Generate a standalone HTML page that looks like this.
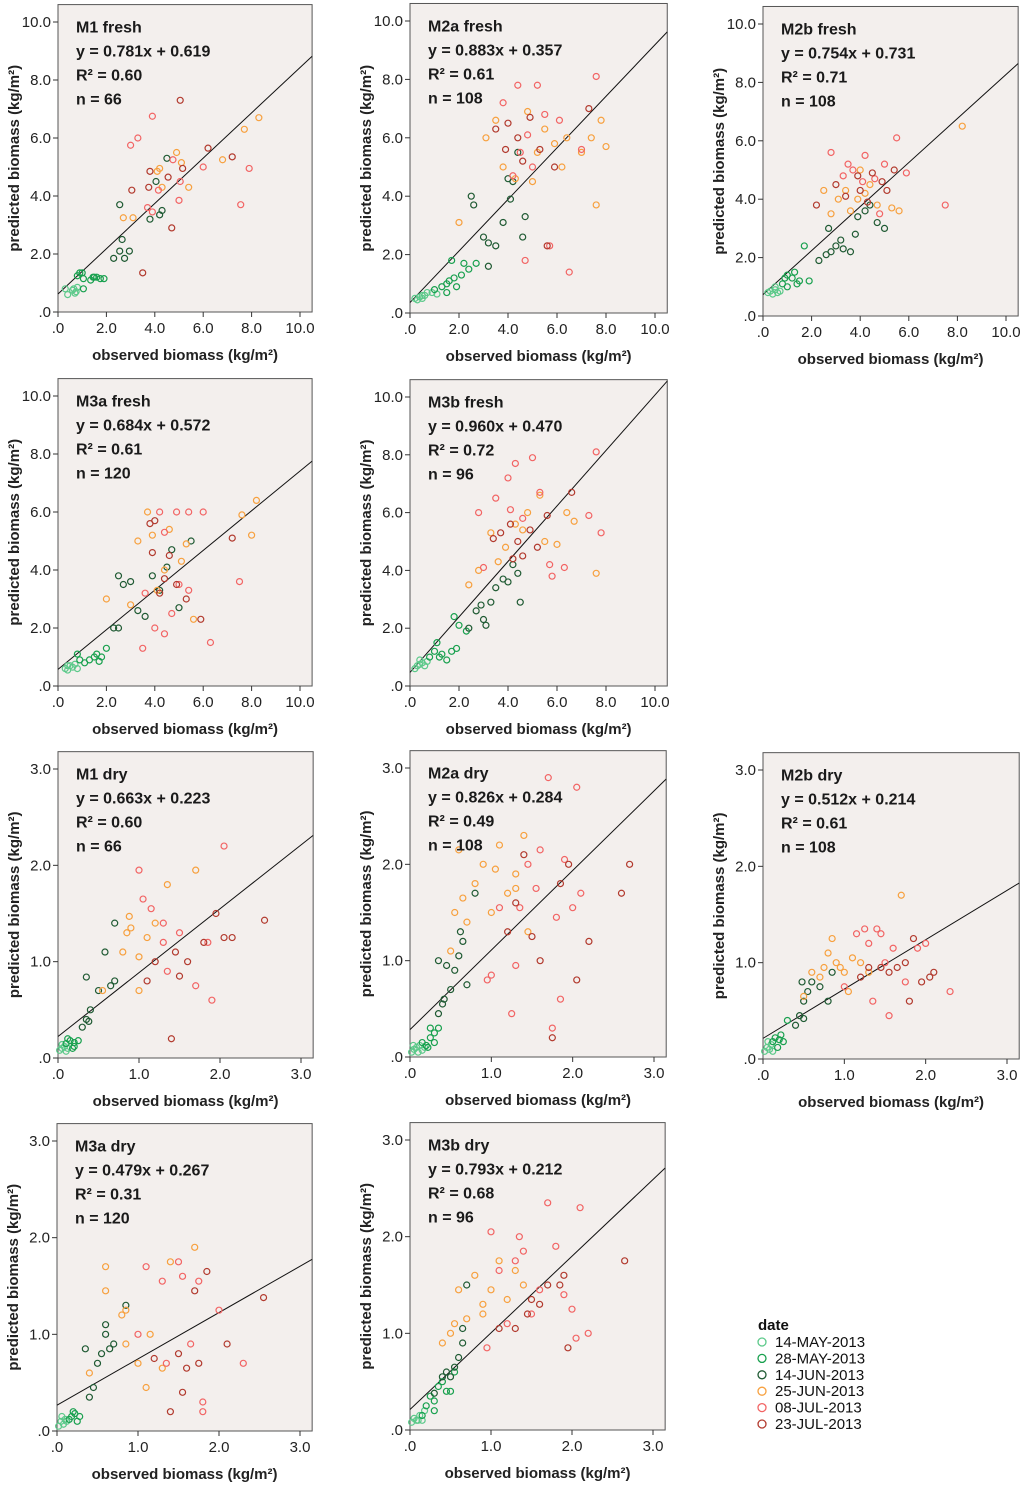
<!DOCTYPE html>
<html><head><meta charset="utf-8"><title>Biomass model scatter plots</title>
<style>
body{margin:0;background:#fff;}
svg{display:block;font-family:"Liberation Sans",Arial,sans-serif;}
</style></head>
<body>
<svg id="chart" width="1024" height="1489" viewBox="0 0 1024 1489" xmlns="http://www.w3.org/2000/svg"></svg>
<script>
// ---- data ----
const dateLabels = ["14-MAY-2013","28-MAY-2013","14-JUN-2013","25-JUN-2013","08-JUL-2013","23-JUL-2013"];
const dateColors = ["#5cc98a","#18a04e","#1f5a33","#f7a03e","#f26464","#b23a2e"];
const panelTitles = ["M1 fresh","M2a fresh","M2b fresh","M3a fresh","M3b fresh","M1 dry","M2a dry","M2b dry","M3a dry","M3b dry"];
const slopes = [0.781,0.883,0.754,0.684,0.960,0.663,0.826,0.512,0.479,0.793];
const intercepts = [0.619,0.357,0.731,0.572,0.470,0.223,0.284,0.214,0.267,0.212];
const r2Labels = ["0.60","0.61","0.71","0.61","0.72","0.60","0.49","0.61","0.31","0.68"];
const nLabels = ["66","108","108","120","96","66","108","108","120","96"];
const freshTicks = [0,2,4,6,8,10];
const freshTickLabels = [".0","2.0","4.0","6.0","8.0","10.0"];
const dryTicks = [0,1,2,3];
const dryTickLabels = [".0","1.0","2.0","3.0"];

const p1 = [
[[0.3,0.8],[0.4,0.6],[0.6,0.75],[0.7,0.65],[0.75,0.7],[0.8,0.85],[0.65,0.8]],
[[0.8,1.25],[0.9,1.35],[1.0,1.35],[1.05,1.15],[1.05,0.8],[1.35,1.1],[1.45,1.2],[1.5,1.2],[1.6,1.2],[1.75,1.15],[1.9,1.15]],
[[2.3,1.85],[2.55,2.1],[2.65,2.5],[2.75,1.85],[2.95,2.1],[2.55,3.7],[3.8,3.2],[4.2,3.35],[4.3,3.5],[4.05,4.5],[4.5,5.3]],
[[2.7,3.25],[3.1,3.25],[4.1,4.85],[4.2,4.95],[4.3,4.3],[4.9,5.5],[5.1,5.15],[5.4,4.3],[6.8,5.25],[7.7,6.3],[8.3,6.7]],
[[3.0,5.75],[3.3,6.0],[3.9,6.75],[3.7,3.6],[3.9,3.45],[4.15,4.2],[4.75,5.25],[5.0,3.85],[5.05,4.5],[6.0,5.0],[7.55,3.7],[7.9,4.95]],
[[3.05,4.2],[3.5,1.35],[3.75,4.3],[3.8,4.85],[4.55,4.65],[4.7,2.9],[5.05,7.3],[5.15,4.95],[6.2,5.65],[7.2,5.35]]];
const p2 = [
[[0.2,0.5],[0.4,0.55],[0.5,0.6],[0.3,0.45],[0.6,0.6],[0.7,0.7],[0.9,0.7],[1.1,0.65],[0.5,0.5]],
[[1.0,0.8],[1.3,0.9],[1.5,1.0],[1.6,1.1],[1.8,1.2],[1.9,0.9],[1.5,0.7],[2.1,1.3],[1.7,1.8],[2.2,1.7],[2.4,1.5],[2.7,1.7]],
[[2.5,4.0],[2.6,3.7],[3.0,2.6],[3.2,2.4],[3.5,2.3],[3.2,1.6],[3.8,3.1],[4.0,4.6],[4.1,3.9],[4.2,4.5],[4.4,5.5],[4.6,2.6],[4.7,3.3]],
[[2.0,3.1],[3.1,6.0],[3.5,6.6],[3.8,5.0],[4.3,4.6],[4.8,6.9],[5.2,5.5],[5.5,6.3],[5.0,4.5],[6.4,6.0],[7.0,5.5],[7.4,6.0],[7.6,3.7],[7.8,6.6],[8.0,5.7],[5.9,5.8],[6.2,5.0]],
[[3.8,7.2],[4.4,7.8],[4.8,6.1],[5.2,7.8],[5.5,6.8],[4.2,4.7],[4.5,5.5],[5.7,2.3],[5.0,5.0],[6.1,6.6],[7.0,5.6],[7.6,8.1],[6.5,1.4],[4.7,1.8]],
[[3.5,6.3],[3.9,5.6],[4.0,6.5],[4.4,6.0],[4.6,5.2],[4.9,6.7],[5.3,5.6],[5.9,5.0],[5.6,2.3],[7.3,7.0]]];
const p3 = [
[[0.2,0.8],[0.3,0.85],[0.4,0.75],[0.5,0.9],[0.6,0.8],[0.7,0.85],[0.5,1.0]],
[[0.8,1.1],[0.9,1.3],[1.0,1.4],[1.2,1.3],[1.3,1.5],[1.5,1.2],[1.9,1.2],[1.7,2.4],[1.0,1.0],[1.4,1.1]],
[[2.3,1.9],[2.6,2.1],[2.8,2.2],[3.0,2.4],[3.3,2.3],[3.6,2.2],[3.8,2.8],[3.9,3.4],[4.2,3.6],[4.4,3.8],[4.7,3.2],[5.0,3.0],[2.7,3.0],[3.2,2.6]],
[[2.5,4.3],[2.8,3.5],[3.1,4.0],[3.4,4.3],[3.6,3.6],[3.9,4.0],[4.2,4.2],[4.4,4.5],[4.7,3.8],[5.3,3.7],[5.6,3.6],[8.2,6.5],[4.0,5.0]],
[[2.8,5.6],[3.5,5.2],[3.7,5.0],[4.2,5.5],[4.6,4.7],[5.0,5.2],[5.5,6.1],[5.9,4.9],[7.5,3.8],[4.8,3.5],[3.3,4.8],[4.1,4.6]],
[[2.2,3.8],[3.4,4.1],[3.9,4.8],[4.3,3.9],[4.5,4.9],[4.9,4.6],[5.1,4.3],[5.4,5.0],[3.0,4.5],[4.0,4.3]]];
const p4 = [
[[0.3,0.6],[0.4,0.55],[0.5,0.7],[0.6,0.65],[0.7,0.75],[0.4,0.7],[0.8,0.6]],
[[0.8,1.1],[0.9,0.9],[1.1,0.8],[1.3,0.9],[1.5,1.0],[1.6,1.1],[1.8,1.0],[2.0,1.3],[1.7,0.85]],
[[2.3,2.0],[2.5,2.0],[2.7,3.5],[3.0,3.6],[3.3,2.6],[3.6,2.4],[3.9,3.8],[4.2,3.3],[4.5,4.1],[4.7,4.7],[5.0,2.7],[5.5,5.0],[2.5,3.8]],
[[2.0,3.0],[3.3,5.0],[3.7,6.0],[3.9,5.2],[4.1,3.3],[4.4,4.0],[4.6,5.4],[5.1,4.3],[5.3,4.9],[5.6,2.3],[7.6,5.9],[8.0,5.2],[8.2,6.4],[3.0,2.8]],
[[3.5,1.3],[4.0,2.0],[4.4,1.8],[4.7,2.5],[5.0,3.5],[5.4,3.3],[4.4,5.3],[4.2,6.0],[4.9,6.0],[6.3,1.5],[7.5,3.6],[6.0,6.0],[5.4,6.0],[3.6,3.2]],
[[3.8,5.6],[3.9,4.6],[4.0,5.7],[4.2,3.2],[4.6,4.5],[4.9,3.5],[5.3,3.0],[5.9,2.3],[7.2,5.1],[4.4,3.7]]];
const p5 = [
[[0.2,0.6],[0.3,0.7],[0.4,0.75],[0.5,0.8],[0.6,0.7],[0.7,0.85],[0.4,0.9]],
[[0.8,1.0],[1.0,1.2],[1.2,1.0],[1.3,1.1],[1.1,1.5],[1.5,0.9],[1.7,1.2],[1.9,1.3],[2.0,2.1],[1.8,2.4],[2.3,1.9]],
[[2.4,2.0],[2.7,2.6],[2.9,2.8],[3.1,2.1],[3.3,2.9],[3.5,3.4],[3.8,3.7],[4.0,3.6],[4.2,4.2],[4.4,3.9],[4.5,2.9],[3.0,2.3]],
[[2.4,3.5],[2.8,4.0],[3.3,5.3],[3.6,4.3],[3.9,4.8],[4.3,5.6],[4.8,6.0],[5.3,6.6],[5.5,5.0],[6.0,4.9],[6.4,6.0],[6.7,5.7],[7.6,3.9],[4.6,5.4]],
[[2.8,6.0],[3.5,6.5],[4.0,7.2],[4.3,7.7],[4.6,5.8],[5.0,7.9],[5.3,6.7],[5.7,4.2],[6.3,4.1],[7.3,5.9],[7.8,5.3],[7.6,8.1],[3.0,4.1],[4.1,6.1],[5.8,3.8]],
[[3.4,5.1],[3.7,5.3],[4.1,5.6],[4.4,5.0],[4.6,4.5],[4.9,5.4],[5.2,4.8],[5.6,5.9],[6.6,6.7],[4.2,4.4]]];
const p6 = [
[[0.02,0.08],[0.05,0.1],[0.08,0.12],[0.1,0.07],[0.12,0.1],[0.05,0.14]],
[[0.1,0.15],[0.15,0.18],[0.2,0.16],[0.2,0.12],[0.25,0.18],[0.18,0.1],[0.12,0.2]],
[[0.3,0.32],[0.35,0.4],[0.38,0.38],[0.4,0.5],[0.35,0.84],[0.5,0.7],[0.58,1.1],[0.65,0.75],[0.7,0.8],[0.7,1.4]],
[[0.55,0.7],[0.8,1.1],[0.85,1.3],[0.9,1.35],[1.0,0.7],[1.0,1.05],[1.1,1.25],[1.35,1.8],[1.7,1.95],[1.2,1.4],[0.88,1.47]],
[[1.0,1.95],[1.15,1.55],[1.05,1.65],[1.3,1.2],[1.35,0.9],[1.5,1.3],[1.7,0.75],[1.85,1.2],[1.9,0.6],[2.05,2.2],[1.3,1.4]],
[[1.1,0.8],[1.2,1.0],[1.4,0.2],[1.45,1.1],[1.6,1.0],[1.8,1.2],[1.95,1.5],[2.05,1.25],[2.15,1.25],[2.55,1.43],[1.5,0.85]]];
const p7 = [
[[0.02,0.05],[0.05,0.08],[0.08,0.1],[0.1,0.05],[0.12,0.12],[0.15,0.07],[0.04,0.12],[0.18,0.1]],
[[0.15,0.15],[0.2,0.12],[0.25,0.2],[0.25,0.3],[0.3,0.25],[0.3,0.15],[0.35,0.3],[0.22,0.1]],
[[0.35,0.45],[0.4,0.55],[0.42,0.6],[0.5,0.7],[0.55,0.9],[0.6,1.05],[0.62,1.3],[0.65,1.2],[0.7,0.75],[0.8,1.7],[0.35,1.0],[0.45,0.95]],
[[0.5,1.1],[0.55,1.5],[0.65,1.65],[0.7,1.4],[0.8,1.8],[0.9,2.0],[1.0,1.5],[1.05,1.95],[1.1,2.2],[1.2,1.7],[1.3,1.9],[1.4,2.3],[0.6,2.15],[1.45,1.3],[1.3,1.75]],
[[0.95,0.8],[1.1,1.55],[1.25,0.45],[1.35,1.55],[1.45,2.0],[1.55,1.75],[1.6,2.15],[1.7,2.9],[1.75,0.3],[1.8,1.45],[1.85,0.6],[1.9,2.05],[2.0,1.55],[2.05,2.8],[2.1,1.7],[1.0,0.85],[1.3,0.95]],
[[1.2,1.3],[1.3,1.6],[1.5,1.25],[1.6,1.0],[1.75,0.2],[1.85,1.8],[1.95,2.0],[2.05,0.8],[2.2,1.2],[2.6,1.7],[2.7,2.0],[1.4,2.1]]];
const p8 = [
[[0.02,0.08],[0.05,0.12],[0.08,0.1],[0.1,0.15],[0.12,0.08],[0.06,0.18]],
[[0.12,0.18],[0.15,0.22],[0.18,0.12],[0.2,0.2],[0.22,0.25],[0.25,0.18],[0.3,0.4]],
[[0.4,0.35],[0.45,0.45],[0.5,0.42],[0.5,0.6],[0.55,0.7],[0.6,0.8],[0.7,0.75],[0.8,0.6],[0.85,0.9],[0.48,0.8]],
[[0.5,0.65],[0.6,0.9],[0.7,0.85],[0.75,0.95],[0.8,1.1],[0.85,1.25],[0.9,1.0],[0.95,0.95],[1.0,0.9],[1.1,1.05],[1.2,1.0],[1.3,0.9],[1.7,1.7],[1.05,0.7]],
[[1.0,0.75],[1.15,1.3],[1.25,1.35],[1.3,1.2],[1.4,1.35],[1.45,1.3],[1.5,1.0],[1.55,0.45],[1.6,1.15],[1.75,0.8],[1.9,1.15],[2.0,1.2],[2.3,0.7],[1.35,0.6]],
[[1.2,0.85],[1.3,0.95],[1.45,0.95],[1.55,0.9],[1.65,0.95],[1.75,1.0],[1.85,1.25],[1.95,0.8],[2.05,0.85],[2.1,0.9],[1.8,0.6]]];
const p9 = [
[[0.02,0.05],[0.05,0.1],[0.08,0.07],[0.1,0.12],[0.06,0.15],[0.12,0.1]],
[[0.15,0.12],[0.18,0.15],[0.2,0.2],[0.25,0.1],[0.28,0.15],[0.22,0.18]],
[[0.4,0.35],[0.45,0.45],[0.5,0.7],[0.55,0.8],[0.6,1.0],[0.65,0.85],[0.7,0.9],[0.85,1.3],[0.35,0.85],[0.6,1.1]],
[[0.4,0.6],[0.6,1.45],[0.6,1.7],[0.8,1.2],[0.85,1.25],[1.0,0.7],[1.1,0.45],[1.3,0.65],[1.4,1.75],[1.7,1.9],[0.85,0.9],[1.15,1.0]],
[[1.0,1.0],[1.1,1.7],[1.3,1.55],[1.35,0.7],[1.5,1.75],[1.55,1.6],[1.65,0.9],[1.8,0.3],[1.8,0.2],[2.0,1.25],[2.3,0.7],[1.75,1.55]],
[[1.2,0.75],[1.4,0.2],[1.5,0.8],[1.6,0.65],[1.7,1.45],[1.75,0.7],[1.85,1.65],[2.1,0.9],[2.55,1.38],[1.55,0.4]]];
const p10 = [
[[0.02,0.08],[0.05,0.12],[0.08,0.1],[0.1,0.1],[0.12,0.15],[0.15,0.1],[0.18,0.2]],
[[0.15,0.15],[0.2,0.25],[0.25,0.35],[0.3,0.3],[0.35,0.45],[0.4,0.5],[0.45,0.4],[0.5,0.4],[0.55,0.6],[0.3,0.2]],
[[0.3,0.38],[0.4,0.55],[0.45,0.6],[0.5,0.55],[0.55,0.65],[0.6,0.75],[0.65,0.9],[0.7,1.5],[0.65,1.05]],
[[0.4,0.9],[0.5,1.0],[0.55,1.1],[0.6,1.45],[0.7,1.15],[0.8,1.6],[0.9,1.3],[1.0,1.45],[1.1,1.75],[1.2,1.35],[1.3,1.65],[1.4,1.5],[0.9,1.2]],
[[0.95,0.85],[1.0,2.05],[1.1,1.65],[1.2,1.1],[1.3,1.75],[1.4,1.85],[1.5,1.2],[1.6,1.45],[1.7,2.35],[1.8,1.9],[1.9,1.4],[2.0,1.25],[2.05,0.95],[2.1,2.3],[2.2,1.0],[1.35,2.0]],
[[1.1,1.05],[1.3,1.05],[1.45,1.2],[1.5,1.35],[1.6,1.3],[1.7,1.5],[1.9,1.6],[1.95,0.85],[2.65,1.75],[1.85,1.5]]];
const panelData = [p1,p2,p3,p4,p5,p6,p7,p8,p9,p10];

// ---- layout (pixel geometry, not data) ----
const layout = [
 {ox:58,oy:312,x1:300,y1:22,fresh:true},
 {ox:410,oy:313,x1:655,y1:21,fresh:true},
 {ox:763,oy:316,x1:1006,y1:24,fresh:true},
 {ox:58,oy:686,x1:300,y1:396,fresh:true},
 {ox:410,oy:686,x1:655,y1:397,fresh:true},
 {ox:58,oy:1058,x1:301,y1:769,fresh:false},
 {ox:410,oy:1057,x1:654,y1:768,fresh:false},
 {ox:763,oy:1059,x1:1007,y1:770,fresh:false},
 {ox:57,oy:1431,x1:300,y1:1141,fresh:false},
 {ox:410,oy:1430,x1:653,y1:1140,fresh:false}
];

const NS = "http://www.w3.org/2000/svg";
const svg = document.getElementById('chart');
function mk(tag, attrs, parent, text){
  const e = document.createElementNS(NS, tag);
  for (const k in attrs) e.setAttribute(k, attrs[k]);
  if (text !== undefined) e.textContent = text;
  parent.appendChild(e);
  return e;
}

layout.forEach((L, i) => {
  const tmax = L.fresh ? 10 : 3;
  const xmax = L.fresh ? 10.5 : 3.15;
  const ymax = L.fresh ? 10.6 : 3.18;
  const xs = v => L.ox + v * (L.x1 - L.ox) / tmax;
  const ys = v => L.oy - v * (L.oy - L.y1) / tmax;
  const g = mk('g', {}, svg);
  
  

  const fr = mk('rect', {x:xs(0), y:ys(ymax), width:xs(xmax)-xs(0), height:ys(0)-ys(ymax), fill:'#f3efed', stroke:'#555', 'stroke-width':1}, g);
  
  

  const ticks = L.fresh ? freshTicks : dryTicks;
  const tl = L.fresh ? freshTickLabels : dryTickLabels;
  const xa = mk('g', {}, g);
  
  
  const ya = mk('g', {}, g);
  
  
  ticks.forEach((t, k) => {
    mk('line', {x1:xs(t), x2:xs(t), y1:L.oy, y2:L.oy+5, stroke:'#333'}, xa);
    const xt = mk('text', {x:xs(t), y:L.oy+21, 'text-anchor':'middle', 'font-size':15, fill:'#222'}, xa, tl[k]);
    
    
    mk('line', {x1:L.ox-5, x2:L.ox, y1:ys(t), y2:ys(t), stroke:'#333'}, ya);
    const yt = mk('text', {x:L.ox-7, y:ys(t)+5, 'text-anchor':'end', 'font-size':15, fill:'#222'}, ya, tl[k]);
    
    
  });
  const xtitle = mk('text', {x:(xs(0)+xs(xmax))/2, y:L.oy+48, 'text-anchor':'middle', 'font-size':15, 'font-weight':'bold', fill:'#222'}, g, 'observed biomass (kg/m²)');
  
  
  const cy = (ys(0)+ys(ymax))/2, cx = L.ox - 39;
  const ytitle = mk('text', {x:cx, y:cy, 'text-anchor':'middle', 'font-size':15, 'font-weight':'bold', fill:'#222', transform:`rotate(-90 ${cx} ${cy})`}, g, 'predicted biomass (kg/m²)');
  
  

  let xe = xmax, ye = slopes[i]*xmax + intercepts[i];
  if (ye > ymax) { ye = ymax; xe = (ymax - intercepts[i]) / slopes[i]; }
  const rl = mk('line', {x1:xs(0), y1:ys(intercepts[i]), x2:xs(xe), y2:ys(ye), stroke:'#111', 'stroke-width':1}, g);
  
  

  panelData[i].forEach((series, d) => {
    series.forEach(p => {
      const c = mk('circle', {cx:xs(p[0]), cy:ys(p[1]), r:3, fill:'none', stroke:dateColors[d], 'stroke-width':1.2}, g);
      
      
    });
  });

  const tx = L.ox + 18, ty = ys(ymax) + 28;
  const lines = [panelTitles[i], `y = ${slopes[i].toFixed(3)}x + ${intercepts[i].toFixed(3)}`, `R² = ${r2Labels[i]}`, `n = ${nLabels[i]}`];
  const names = ['panel-title','regression-equation','r-squared','sample-size'];
  lines.forEach((s, k) => {
    const t = mk('text', {x:tx, y:ty + k*24, 'font-size':16, 'font-weight':'bold', fill:'#1a1a1a'}, g, s);
    
    
  });
});

const lg = mk('g', {}, svg);


const lt = mk('text', {x:758, y:1330, 'font-size':15, 'font-weight':'bold', fill:'#111'}, lg, 'date');


dateLabels.forEach((d, k) => {
  const y = 1342 + k*16.4;
  const c = mk('circle', {cx:762, cy:y, r:4, fill:'none', stroke:dateColors[k], 'stroke-width':1.3}, lg);
  
  
  const t = mk('text', {x:775, y:y+5, 'font-size':15, fill:'#111'}, lg, d);
  
  
});
</script>
</body></html>
